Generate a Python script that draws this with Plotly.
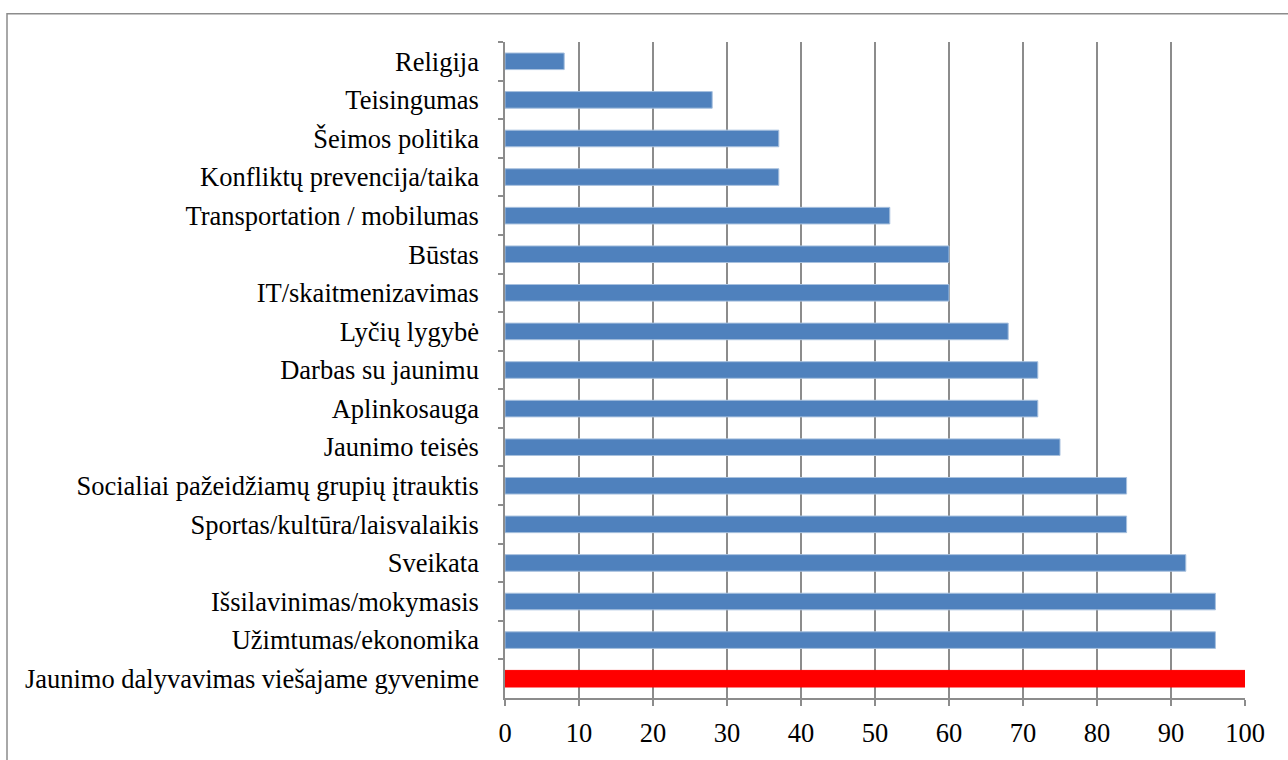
import plotly.graph_objects as go

categories = [
    "Religija",
    "Teisingumas",
    "Šeimos politika",
    "Konfliktų prevencija/taika",
    "Transportation / mobilumas",
    "Būstas",
    "IT/skaitmenizavimas",
    "Lyčių lygybė",
    "Darbas su jaunimu",
    "Aplinkosauga",
    "Jaunimo teisės",
    "Socialiai pažeidžiamų grupių įtrauktis",
    "Sportas/kultūra/laisvalaikis",
    "Sveikata",
    "Išsilavinimas/mokymasis",
    "Užimtumas/ekonomika",
    "Jaunimo dalyvavimas viešajame gyvenime",
]
values = [8, 28, 37, 37, 52, 60, 60, 68, 72, 72, 75, 84, 84, 92, 96, 96, 100]
highlight = "Jaunimo dalyvavimas viešajame gyvenime"
x_ticks = [0, 10, 20, 30, 40, 50, 60, 70, 80, 90, 100]

colors = ["#FF0000" if c == highlight else "#4F81BD" for c in categories]
line_colors = ["#FF0000" if c == highlight else "#A7C0DE" for c in categories]

fig = go.Figure(
    go.Bar(
        y=categories,
        x=values,
        orientation="h",
        width=0.43,
        marker=dict(color=colors, line=dict(color=line_colors, width=1)),
    )
)

W, H = 1288, 760
ml, mr, mt, mb = 505, 43, 41.5, 56.5
pw = W - ml - mr
ph = H - mt - mb

def px_x(p):
    return (p - ml) / pw

def px_y(p):
    return 1 - (p - mt) / ph

FONT = "Liberation Serif"
FS = 26.5

fig.update_layout(
    width=W,
    height=H,
    margin=dict(l=ml, r=mr, t=mt, b=mb, pad=0),
    paper_bgcolor="white",
    plot_bgcolor="white",
    font=dict(family=FONT, size=FS, color="black"),
    showlegend=False,
    shapes=[
        dict(
            type="rect",
            xref="paper",
            yref="paper",
            x0=px_x(7),
            x1=px_x(1295),
            y0=px_y(770),
            y1=px_y(13),
            line=dict(color="#8C8C8C", width=1.5),
            fillcolor="rgba(0,0,0,0)",
            layer="below",
        )
    ],
)

fig.update_xaxes(
    range=[0, 100],
    tickvals=x_ticks,
    ticktext=[str(v) for v in x_ticks],
    tickfont=dict(family=FONT, size=FS, color="black"),
    showgrid=True,
    gridcolor="#8C8C8C",
    gridwidth=1.5,
    showline=True,
    linecolor="#8C8C8C",
    linewidth=1.5,
    ticks="outside",
    ticklen=6,
    tickwidth=1.5,
    tickcolor="#8C8C8C",
    ticklabelstandoff=4,
    zeroline=False,
    fixedrange=True,
)

fig.update_yaxes(
    categoryorder="array",
    categoryarray=categories,
    autorange="reversed",
    tickfont=dict(family=FONT, size=FS, color="black"),
    showline=True,
    linecolor="#8C8C8C",
    linewidth=1.5,
    ticks="outside",
    tickson="boundaries",
    ticklen=5,
    tickwidth=1.5,
    tickcolor="#8C8C8C",
    ticklabelstandoff=19,
    showgrid=False,
    zeroline=False,
    fixedrange=True,
)

fig.write_html(
    "out.html",
    config={"displayModeBar": False},
    post_script="document.body.style.margin='0';document.body.style.padding='0';",
)
